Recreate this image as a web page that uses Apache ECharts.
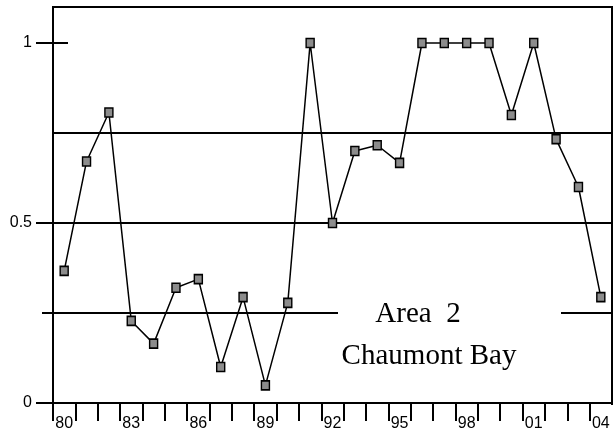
<!DOCTYPE html>
<html>
<head>
<meta charset="utf-8">
<script src="https://cdn.jsdelivr.net/npm/echarts@6.0.0/dist/echarts.min.js"></script>
<style>
  html, body { margin: 0; padding: 0; background: #fff; }
  #chart { width: 616px; height: 442px; }
</style>
</head>
<body>
<div id="chart"></div>
<script>
// Survey years (two-digit labels), 1980 - 2004
const years = ['80','81','82','83','84','85','86','87','88','89',
               '90','91','92','93','94','95','96','97','98','99',
               '00','01','02','03','04'];

// Proportion observed each year, Area 2 (Chaumont Bay)
const proportion = [0.367, 0.671, 0.807, 0.228, 0.165, 0.32, 0.344, 0.1, 0.294, 0.049,
                    0.278, 1, 0.5, 0.7, 0.716, 0.667, 1, 1, 1, 1,
                    0.8, 1, 0.733, 0.6, 0.294];

// Labelled y ticks and horizontal reference levels
const yTickValues = [0, 0.5, 1];
const referenceLevels = [0.25, 0.5, 0.75];

const titleLines = ['Area  2', 'Chaumont Bay'];

const black = '#000';
const sans = 'Liberation Sans';
const serif = 'Liberation Serif';

const chart = echarts.init(document.getElementById('chart'), null, { renderer: 'canvas' });

const baseY = { type: 'value', min: 0, max: 1.1, position: 'left', splitLine: { show: false } };

chart.setOption({
  animation: false,
  backgroundColor: '#fff',
  grid: {
    left: 53, right: 4, top: 7, bottom: 39,
    show: true, borderColor: black, borderWidth: 2, backgroundColor: 'transparent'
  },
  xAxis: {
    type: 'category',
    data: years,
    boundaryGap: true,
    axisLine: { lineStyle: { color: black, width: 2 } },
    axisTick: { show: true, length: 18, interval: 0, lineStyle: { color: black, width: 2 } },
    axisLabel: { interval: 2, margin: 13, color: black, fontSize: 16, fontFamily: sans },
    splitLine: { show: false }
  },
  yAxis: [
    Object.assign({}, baseY, {
      axisLine: { show: true, lineStyle: { color: black, width: 2 } },
      axisTick: { show: true, customValues: yTickValues, length: 17, lineStyle: { color: black, width: 2 } },
      axisLabel: {
        show: true, customValues: yTickValues, margin: 21,
        color: black, fontSize: 16, fontFamily: sans,
        formatter: v => String(v)
      }
    }),
    // inward tick at the top value
    Object.assign({}, baseY, {
      axisLine: { show: false },
      axisTick: { show: true, inside: true, customValues: [1], length: 15, lineStyle: { color: black, width: 2 } },
      axisLabel: { show: false }
    }),
    // short outward tick at the lower reference level
    Object.assign({}, baseY, {
      axisLine: { show: false },
      axisTick: { show: true, customValues: [0.25], length: 11, lineStyle: { color: black, width: 2 } },
      axisLabel: { show: false }
    })
  ],
  series: [
    {
      // reference levels across the plot
      type: 'line',
      data: [],
      z: 1,
      silent: true,
      markLine: {
        z: 1,
        silent: true,
        symbol: 'none',
        label: { show: false },
        lineStyle: { color: black, width: 2, type: 'solid' },
        emphasis: { disabled: true },
        data: referenceLevels.map(v => ({ yAxis: v }))
      }
    },
    {
      type: 'line',
      data: proportion,
      z: 5,
      symbol: 'rect',
      symbolSize: [8, 9],
      showSymbol: true,
      lineStyle: { color: black, width: 1.5 },
      itemStyle: { color: '#8c8c8c', borderColor: black, borderWidth: 1.5 },
      emphasis: { disabled: true }
    }
  ],
  graphic: [
    // break in the lower reference line behind the caption
    { type: 'rect', z: 3, silent: true, shape: { x: 338, y: 308, width: 223, height: 9 }, style: { fill: '#fff' } },
    // no tick below the right edge of the frame
    { type: 'rect', z: 3, silent: true, shape: { x: 610.5, y: 405, width: 6, height: 18 }, style: { fill: '#fff' } },
    {
      type: 'text', z: 10, x: 418, y: 314,
      style: { text: titleLines[0], font: '29px "' + serif + '"', fill: black,
               textAlign: 'center', textVerticalAlign: 'middle', verticalAlign: 'middle' }
    },
    {
      type: 'text', z: 10, x: 429, y: 356,
      style: { text: titleLines[1], font: '29px "' + serif + '"', fill: black,
               textAlign: 'center', textVerticalAlign: 'middle', verticalAlign: 'middle' }
    }
  ]
});
</script>
</body>
</html>
